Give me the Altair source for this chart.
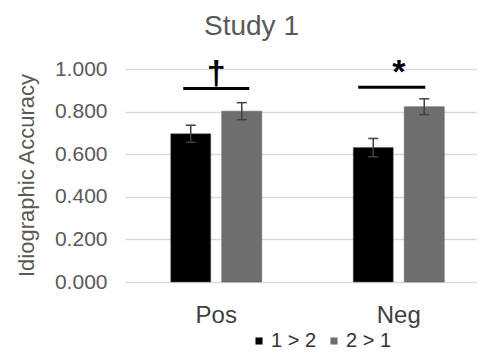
import altair as alt
import pandas as pd

categories = ["Pos", "Pos", "Neg", "Neg"]
groups = ["1 > 2", "2 > 1", "1 > 2", "2 > 1"]
means = [0.696, 0.802, 0.631, 0.823]
errors = [0.040, 0.040, 0.043, 0.037]

sig_categories = ["Pos", "Neg"]
sig_line_values = [0.909, 0.914]
sig_marks = ["†", "*"]
sig_mark_values = [0.975, 0.98]

cat_order = ["Pos", "Neg"]
grp_order = ["1 > 2", "2 > 1"]
colors = ["#000000", "#6e6e6e"]
font = "Liberation Sans"

df = pd.DataFrame({"cat": categories, "grp": groups, "mean": means, "err": errors})
df["lo"] = df["mean"] - df["err"]
df["hi"] = df["mean"] + df["err"]
sig = pd.DataFrame({"cat": sig_categories, "line": sig_line_values,
                    "mark": sig_marks, "mv": sig_mark_values})

x = alt.X("cat:N", sort=cat_order,
          scale=alt.Scale(paddingInner=0, paddingOuter=0, range=[0, 365]),
          axis=alt.Axis(title=None, labelAngle=0, domain=False, ticks=False,
                        labelFontSize=24, labelColor="#404040", labelPadding=21,
                        labelFont=font))
xo = alt.XOffset("grp:N", sort=grp_order,
                 scale=alt.Scale(paddingInner=0.216, paddingOuter=0.897))
yscale = alt.Scale(domain=[0, 1])
yaxis = alt.Axis(values=[0, 0.2, 0.4, 0.6, 0.8, 1.0], format=".3f",
                 title="Idiographic  Accuracy", titleFontSize=22,
                 titleFont=font, titleColor="#595959", titleFontWeight="normal",
                 titleAngle=-90, titleX=-99, titleY=106, titleBaseline="middle",
                 titleAlign="center",
                 labelFontSize=21, labelFont=font, labelColor="#595959",
                 labelPadding=18, ticks=False, domain=False,
                 gridColor="#d9d9d9", gridWidth=1.5)

base = alt.Chart(df)

bars = base.mark_bar(stroke="#5a5a5a", strokeWidth=0.5).encode(
    x=x, xOffset=xo,
    y=alt.Y("mean:Q", scale=yscale, axis=yaxis),
    color=alt.Color("grp:N", sort=grp_order,
                    scale=alt.Scale(domain=grp_order, range=colors),
                    legend=alt.Legend(title=None, orient="none", direction="horizontal",
                                      legendX=124, legendY=262,
                                      symbolType="square", symbolSize=50,
                                      symbolStrokeWidth=0,
                                      labelFontSize=20, labelFont=font,
                                      labelColor="#333333", labelOffset=2,
                                      columnPadding=7)),
)

err_rules = base.mark_rule(color="#404040", strokeWidth=1.5).encode(
    x=x, xOffset=xo,
    y=alt.Y("lo:Q", scale=yscale),
    y2="hi:Q",
)
err_top = base.mark_tick(color="#404040", thickness=1.5, size=10, opacity=1,
                         orient="horizontal").encode(
    x=x, xOffset=xo, y=alt.Y("hi:Q", scale=yscale))
err_bot = base.mark_tick(color="#404040", thickness=1.5, size=10, opacity=1,
                         orient="horizontal").encode(
    x=x, xOffset=xo, y=alt.Y("lo:Q", scale=yscale))

sig_base = alt.Chart(sig)
line_pos = sig_base.transform_filter(alt.datum.cat == "Pos").mark_tick(
    color="#000000", thickness=3, size=66, opacity=1, orient="horizontal").encode(
    x=x, y=alt.Y("line:Q", scale=yscale))
line_neg = sig_base.transform_filter(alt.datum.cat == "Neg").mark_tick(
    color="#000000", thickness=3, size=67, opacity=1, orient="horizontal",
    xOffset=-7).encode(
    x=x, y=alt.Y("line:Q", scale=yscale))
sig_text = sig_base.mark_text(fontSize=34, fontWeight="bold", font=font,
                              color="#000000", baseline="middle").encode(
    x=x, y=alt.Y("mv:Q", scale=yscale), text="mark:N")

chart = alt.layer(bars, err_rules, err_top, err_bot, line_pos, line_neg, sig_text).properties(
    width=352, height=213,
    title=alt.TitleParams("Study 1", anchor="start", frame="group", dx=79,
                          fontSize=28, font=font, color="#595959",
                          fontWeight="normal", offset=15),
    autosize=alt.AutoSizeParams(type="none"),
    padding={"left": 117, "top": 61, "right": 0, "bottom": 70},
).configure_view(stroke=None)

chart.save("out.html", embed_options={"renderer": "svg", "actions": False})
